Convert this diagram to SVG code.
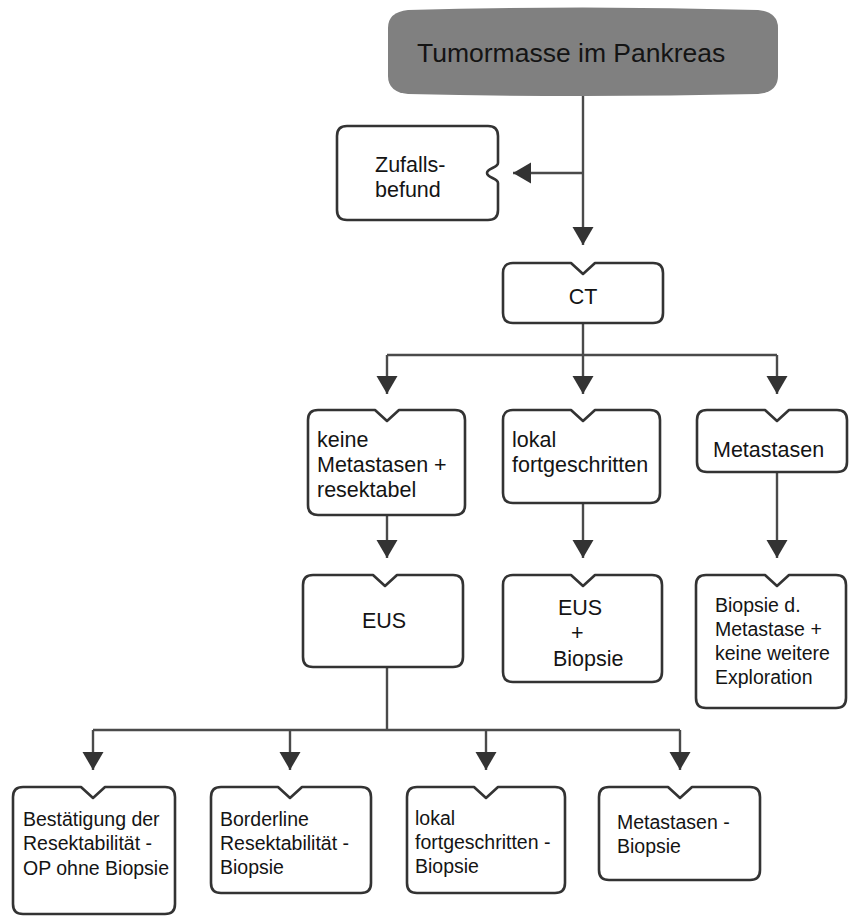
<svg xmlns="http://www.w3.org/2000/svg" width="849" height="917" viewBox="0 0 849 917">
<style>
.box{fill:#fff;stroke:#333;stroke-width:2.6;stroke-linejoin:round}
.ln{fill:none;stroke:#4a4a4a;stroke-width:2.4}
.t{font-family:"Liberation Sans",Arial,sans-serif;fill:#141414}
.f21{font-size:21.5px}
.f19{font-size:19.5px}
</style>
<defs>
<marker id="ah" markerUnits="userSpaceOnUse" markerWidth="22" markerHeight="22" refX="18" refY="11" orient="auto">
<path d="M0,0.5 L18,11 L0,21.5 Z" fill="#333"/>
</marker>
</defs>
<rect width="849" height="917" fill="#fff"/>

<g id="connectors">
<path class="ln" d="M583,93 V245" marker-end="url(#ah)"/>
<path class="ln" d="M583,173 H513" marker-end="url(#ah)"/>
<path class="ln" d="M583,323 V355 M387,355 H777"/>
<path class="ln" d="M387,355 V394" marker-end="url(#ah)"/>
<path class="ln" d="M583,355 V394" marker-end="url(#ah)"/>
<path class="ln" d="M777,355 V394" marker-end="url(#ah)"/>
<path class="ln" d="M387,515 V558" marker-end="url(#ah)"/>
<path class="ln" d="M583,503 V558" marker-end="url(#ah)"/>
<path class="ln" d="M777,472 V558" marker-end="url(#ah)"/>
<path class="ln" d="M387,667 V730 M93,730 H680"/>
<path class="ln" d="M93,730 V770" marker-end="url(#ah)"/>
<path class="ln" d="M290,730 V770" marker-end="url(#ah)"/>
<path class="ln" d="M486,730 V770" marker-end="url(#ah)"/>
<path class="ln" d="M680,730 V770" marker-end="url(#ah)"/>
</g>

<g id="tumormasse">
<path d="M408,10 Q583,5 758,10 Q778,12 778,28 V76 Q778,92 758,94 Q583,98 408,94 Q388,92 388,76 V28 Q388,12 408,10 Z" fill="#808080"/>
<text class="t" x="417" y="62" font-size="26.5">Tumormasse im Pankreas</text>
</g>

<g id="zufallsbefund">
<path class="box" d="M347,126 H488 Q498,126 498,136 V163 C498,168 487,168 487,173 C487,178 498,178 498,183 V210 Q498,220 488,220 H347 Q337,220 337,210 V136 Q337,126 347,126 Z"/>
<text class="t f21" x="375" y="172">Zufalls-</text>
<text class="t f21" x="375" y="197">befund</text>
</g>

<g id="ct">
<path class="box" d="M513,263 H571 L583,274 L595,263 H653 Q663,263 663,273 V313 Q663,323 653,323 H513 Q503,323 503,313 V273 Q503,263 513,263 Z"/>
<text class="t f21" x="583" y="304" text-anchor="middle">CT</text>
</g>

<g id="keine-metastasen">
<path class="box" d="M318,410 H375 L387,421 L399,410 H455 Q465,410 465,420 V505 Q465,515 455,515 H318 Q308,515 308,505 V420 Q308,410 318,410 Z"/>
<text class="t f21" x="317" y="447">keine</text>
<text class="t f21" x="317" y="472">Metastasen +</text>
<text class="t f21" x="317" y="497">resektabel</text>
</g>

<g id="lokal-fortgeschritten">
<path class="box" d="M513,410 H571 L583,421 L595,410 H650 Q660,410 660,420 V493 Q660,503 650,503 H513 Q503,503 503,493 V420 Q503,410 513,410 Z"/>
<text class="t f21" x="512" y="447">lokal</text>
<text class="t f21" x="512" y="472">fortgeschritten</text>
</g>

<g id="metastasen">
<path class="box" d="M707,410 H765 L777,421 L789,410 H837 Q847,410 847,420 V462 Q847,472 837,472 H707 Q697,472 697,462 V420 Q697,410 707,410 Z"/>
<text class="t f21" x="713" y="457">Metastasen</text>
</g>

<g id="eus">
<path class="box" d="M313,575 H373 L385,586 L397,575 H453 Q463,575 463,585 V657 Q463,667 453,667 H313 Q303,667 303,657 V585 Q303,575 313,575 Z"/>
<text class="t f21" x="384" y="628" text-anchor="middle">EUS</text>
</g>

<g id="eus-biopsie">
<path class="box" d="M513,575 H571 L583,586 L595,575 H652 Q662,575 662,585 V672 Q662,682 652,682 H513 Q503,682 503,672 V585 Q503,575 513,575 Z"/>
<text class="t f21" x="558" y="615">EUS</text>
<text class="t f21" x="571" y="640">+</text>
<text class="t f21" x="553" y="666">Biopsie</text>
</g>

<g id="biopsie-metastase">
<path class="box" d="M706,575 H765 L777,586 L789,575 H836 Q846,575 846,585 V698 Q846,708 836,708 H706 Q696,708 696,698 V585 Q696,575 706,575 Z"/>
<text class="t f19" x="715" y="612">Biopsie d.</text>
<text class="t f19" x="715" y="636">Metastase +</text>
<text class="t f19" x="715" y="660">keine weitere</text>
<text class="t f19" x="715" y="684">Exploration</text>
</g>

<g id="bestaetigung">
<path class="box" d="M23,787 H81 L93,798 L105,787 H165 Q175,787 175,797 V904 Q175,914 165,914 H23 Q13,914 13,904 V797 Q13,787 23,787 Z"/>
<text class="t f19" x="23" y="826">Bestätigung der</text>
<text class="t f19" x="23" y="850">Resektabilität -</text>
<text class="t f19" x="23" y="875">OP ohne Biopsie</text>
</g>

<g id="borderline">
<path class="box" d="M221,787 H278 L290,798 L302,787 H361 Q371,787 371,797 V883 Q371,893 361,893 H221 Q211,893 211,883 V797 Q211,787 221,787 Z"/>
<text class="t f19" x="220" y="826">Borderline</text>
<text class="t f19" x="220" y="850">Resektabilität -</text>
<text class="t f19" x="220" y="874">Biopsie</text>
</g>

<g id="lokal-biopsie">
<path class="box" d="M417,787 H474 L486,798 L498,787 H555 Q565,787 565,797 V883 Q565,893 555,893 H417 Q407,893 407,883 V797 Q407,787 417,787 Z"/>
<text class="t f19" x="415" y="825">lokal</text>
<text class="t f19" x="415" y="849">fortgeschritten -</text>
<text class="t f19" x="415" y="873">Biopsie</text>
</g>

<g id="metastasen-biopsie">
<path class="box" d="M609,787 H668 L680,798 L692,787 H750 Q760,787 760,797 V870 Q760,880 750,880 H609 Q599,880 599,870 V797 Q599,787 609,787 Z"/>
<text class="t f19" x="617" y="829">Metastasen -</text>
<text class="t f19" x="617" y="853">Biopsie</text>
</g>
</svg>
